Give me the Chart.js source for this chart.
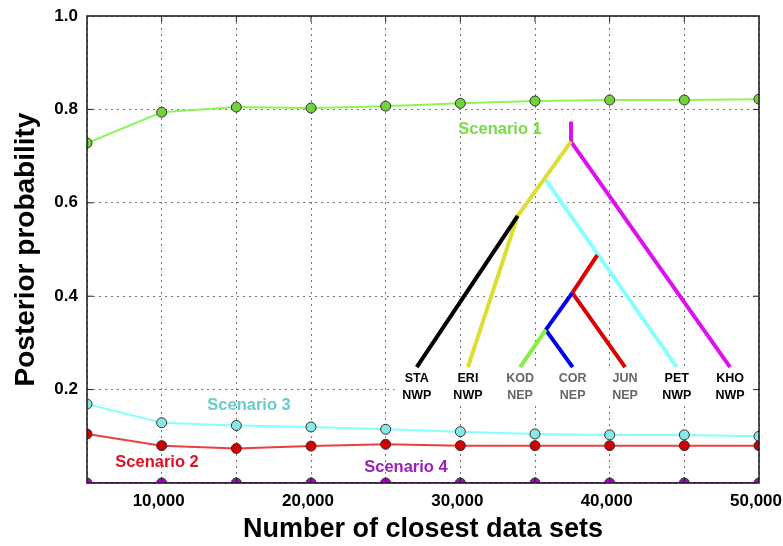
<!DOCTYPE html>
<html>
<head>
<meta charset="utf-8">
<script src="https://cdn.jsdelivr.net/npm/chart.js@4.4.1/dist/chart.umd.min.js"></script>
<style>
  html, body { margin: 0; padding: 0; background: #fff; }
  #wrap { width: 783px; height: 546px; }
</style>
</head>
<body>
<div id="wrap"><canvas id="chart"></canvas></div>
<script>
// number of closest data sets (x)
const closestSets = [5000, 10000, 15000, 20000, 25000, 30000, 35000, 40000, 45000, 50000];

// posterior probability of each scenario
const scenario1 = [0.728, 0.794, 0.805, 0.803, 0.807, 0.813, 0.818, 0.820, 0.820, 0.822];
const scenario2 = [0.105, 0.080, 0.074, 0.079, 0.083, 0.080, 0.080, 0.080, 0.080, 0.080];
const scenario3 = [0.169, 0.129, 0.123, 0.120, 0.115, 0.110, 0.105, 0.103, 0.103, 0.100];
const scenario4 = [0, 0, 0, 0, 0, 0, 0, 0, 0, 0];

const scenarioNames = ['Scenario 1', 'Scenario 2', 'Scenario 3', 'Scenario 4'];

// inset tree (scenario 1), nodes in axis units
const treeNodes = {
  top: [37410, 0.774], root: [37410, 0.731], y1: [33840, 0.572], c1: [35720, 0.649],
  r1: [39170, 0.488], r2: [37500, 0.407], b1: [35720, 0.328],
  STA: [27080, 0.248], ERI: [30510, 0.248], KOD: [34000, 0.248], COR: [37520, 0.248],
  JUN: [41030, 0.248], PET: [44490, 0.248], KHO: [48060, 0.248]
};
const treeBranches = [
  ['top', 'root', '#dd11ee'], ['root', 'KHO', '#dd11ee'],
  ['root', 'y1', '#dddd33'], ['y1', 'ERI', '#dddd33'], ['y1', 'STA', '#000000'],
  ['c1', 'PET', '#88ffff'],
  ['r1', 'r2', '#dd0000'], ['r2', 'JUN', '#dd0000'],
  ['r2', 'b1', '#0000ee'], ['b1', 'COR', '#0000ee'], ['b1', 'KOD', '#88ee44']
];
const tipNames = ['STA', 'ERI', 'KOD', 'COR', 'JUN', 'PET', 'KHO'];
const tipGroups = ['NWP', 'NWP', 'NEP', 'NEP', 'NEP', 'NWP', 'NWP'];

const FONT = '"Liberation Sans", Arial, Helvetica, sans-serif';

function pts(vals) {
  return closestSets.map((x, i) => ({ x, y: vals[i] }));
}

function series(label, vals, line, fill) {
  return {
    label,
    data: pts(vals),
    borderColor: line,
    borderWidth: 2,
    backgroundColor: fill,
    pointBackgroundColor: fill,
    pointBorderColor: '#333',
    pointBorderWidth: 1,
    pointRadius: 5,
    tension: 0
  };
}

// frame with inward ticks like the original
const framePlugin = {
  id: 'frame',
  afterDatasetsDraw(chart) {
    const { ctx, chartArea: a, scales } = chart;
    ctx.save();
    ctx.strokeStyle = '#222';
    ctx.lineWidth = 1;
    ctx.beginPath();
    scales.x.ticks.forEach(t => {
      const px = scales.x.getPixelForValue(t.value);
      if (px <= a.left + 1 || px >= a.right - 1) return;
      ctx.moveTo(px, a.top); ctx.lineTo(px, a.top + 6);
      ctx.moveTo(px, a.bottom); ctx.lineTo(px, a.bottom - 6);
    });
    scales.y.ticks.forEach(t => {
      const py = scales.y.getPixelForValue(t.value);
      if (py <= a.top + 1 || py >= a.bottom - 1) return;
      ctx.moveTo(a.left, py); ctx.lineTo(a.left + 6, py);
      ctx.moveTo(a.right, py); ctx.lineTo(a.right - 6, py);
    });
    ctx.stroke();
    ctx.lineWidth = 1.6;
    ctx.strokeRect(a.left, a.top, a.right - a.left, a.bottom - a.top);
    ctx.restore();
  }
};

// scenario labels and inset tree
const scenarioLabelPos = [[32660, 0.756], [9690, 0.043], [15850, 0.166], [26360, 0.034]];
const scenarioLabelColors = ['#77dd44', '#dd1122', '#66cccc', '#9922bb'];
const tipNameY = 0.223;
const tipGroupY = 0.187;

const insetPlugin = {
  id: 'inset',
  beforeDatasetsDraw(chart) {
    // white band behind the tip labels hides the grid there
    const { ctx, chartArea: a, scales: { x, y } } = chart;
    const left = x.getPixelForValue(treeNodes.STA[0]) - 22;
    const top = y.getPixelForValue(tipNameY) - 12;
    const bottom = y.getPixelForValue(tipGroupY) + 10;
    ctx.save();
    ctx.fillStyle = '#fff';
    ctx.fillRect(left, top, a.right - 1 - left, bottom - top);
    ctx.restore();
  },
  afterDatasetsDraw(chart) {
    const { ctx, scales: { x, y } } = chart;
    const P = n => [x.getPixelForValue(treeNodes[n][0]), y.getPixelForValue(treeNodes[n][1])];
    ctx.save();
    ctx.lineWidth = 4;
    ctx.lineCap = 'butt';
    treeBranches.forEach(([a, b, c]) => {
      const p1 = P(a), p2 = P(b);
      ctx.strokeStyle = c;
      ctx.beginPath();
      ctx.moveTo(p1[0], p1[1]);
      ctx.lineTo(p2[0], p2[1]);
      ctx.stroke();
    });
    ctx.textAlign = 'center';
    ctx.textBaseline = 'middle';
    ctx.font = 'bold 12.5px ' + FONT;
    tipNames.forEach((n, i) => {
      const px = x.getPixelForValue(treeNodes[n][0]);
      ctx.fillStyle = tipGroups[i] === 'NEP' ? '#666' : '#000';
      ctx.fillText(n, px, y.getPixelForValue(tipNameY));
      ctx.fillText(tipGroups[i], px, y.getPixelForValue(tipGroupY));
    });
    ctx.font = 'bold 16.5px ' + FONT;
    scenarioNames.forEach((s, i) => {
      ctx.fillStyle = scenarioLabelColors[i];
      ctx.fillText(s, x.getPixelForValue(scenarioLabelPos[i][0]), y.getPixelForValue(scenarioLabelPos[i][1]));
    });
    ctx.restore();
  }
};

const gridStyle = {
  color: '#777',
  lineWidth: 1,
  drawTicks: false
};
const borderStyle = { display: false, dash: [2, 4] };

new Chart(document.getElementById('chart'), {
  type: 'line',
  data: {
    datasets: [
      series(scenarioNames[3], scenario4, '#a010c0', '#b000d0'),
      series(scenarioNames[1], scenario2, '#e84040', '#d40000'),
      series(scenarioNames[2], scenario3, '#88ffff', '#88e8e8'),
      series(scenarioNames[0], scenario1, '#8cf55a', '#72d23c')
    ]
  },
  options: {
    responsive: true,
    maintainAspectRatio: false,
    animation: false,
    devicePixelRatio: 1,
    layout: { padding: { left: 0, right: 24, top: 16, bottom: 0 } },
    plugins: {
      legend: { display: false },
      tooltip: { enabled: false }
    },
    scales: {
      x: {
        type: 'linear',
        min: 5000,
        max: 50000,
        grid: gridStyle,
        border: borderStyle,
        ticks: {
          stepSize: 5000,
          autoSkip: false,
          maxRotation: 0,
          padding: 8,
          labelOffset: -3,
          color: '#000',
          font: { family: FONT, size: 17, weight: 'bold' },
          callback: v => (v % 10000 === 0) ? v.toLocaleString('en-US') : ''
        },
        title: {
          display: true,
          text: 'Number of closest data sets',
          color: '#000',
          font: { family: FONT, size: 27, weight: 'bold' },
          padding: { top: 0, bottom: 0 }
        },
        afterFit(s) { s.height = 63; s.paddingLeft = 0; s.paddingRight = 0; }
      },
      y: {
        min: 0,
        max: 1,
        grid: gridStyle,
        border: borderStyle,
        ticks: {
          stepSize: 0.2,
          padding: 9,
          color: '#000',
          font: { family: FONT, size: 17, weight: 'bold' },
          callback: v => v === 0 ? '' : v.toFixed(1)
        },
        title: {
          display: true,
          text: 'Posterior probability',
          color: '#000',
          font: { family: FONT, size: 28, weight: 'bold' },
          padding: { top: 9, bottom: 0 }
        },
        afterFit(s) { s.width = 87; s.paddingTop = 0; s.paddingBottom = 0; }
      }
    }
  },
  plugins: [framePlugin, insetPlugin]
});
</script>
</body>
</html>
